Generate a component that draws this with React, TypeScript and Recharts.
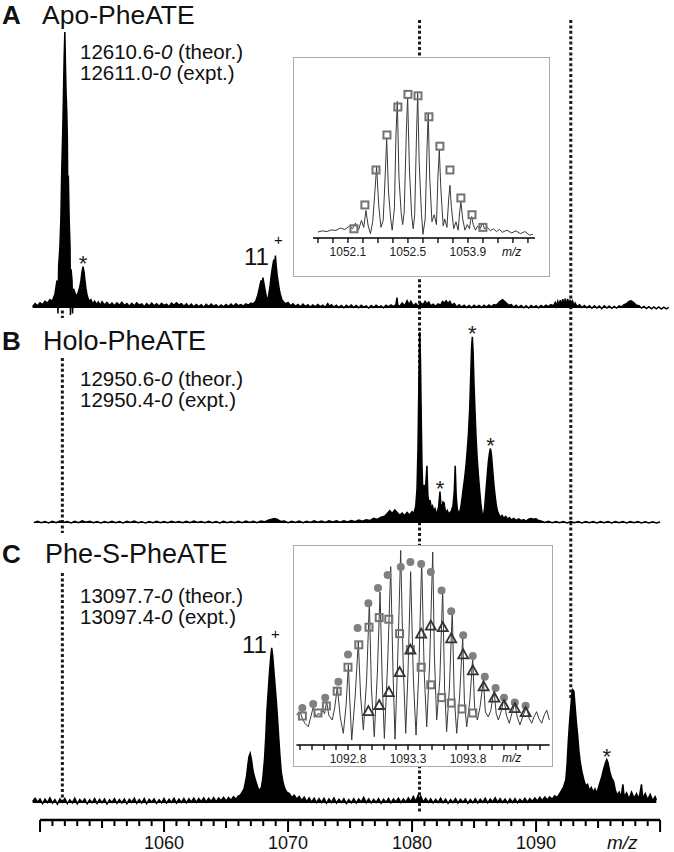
import React from 'react';
import {
  AreaChart,
  Area,
  ComposedChart,
  Line,
  Scatter,
  XAxis,
  YAxis,
  ReferenceLine,
  ReferenceDot,
} from 'recharts';

// m/z, relative intensity
const apoSpectrum: [number, number][] = [
  [1049.4, 0.5], [1049.6, 1.6], [1049.8, 0.8], [1050.0, 1.9], [1050.2, 1.2], [1050.4, 2.4], [1050.6, 1.8],
  [1050.8, 3.0], [1051.0, 2.6], [1051.2, 5], [1051.37, 10], [1051.45, -2], [1051.5, 15], [1051.6, 22],
  [1051.68, 32], [1051.75, 50], [1051.82, 62], [1051.88, 75], [1051.94, 90], [1052.0, 100], [1052.05, 88],
  [1052.1, 78], [1052.15, 72], [1052.2, 62], [1052.24, 40], [1052.28, 48], [1052.35, 32], [1052.42, 22],
  [1052.45, -2.5], [1052.5, 14], [1052.58, 10], [1052.62, -2], [1052.7, 7], [1052.85, 5], [1053.0, 4.5],
  [1053.1, 6], [1053.2, 7.5], [1053.3, 10], [1053.38, 13], [1053.47, 15], [1053.55, 13], [1053.62, 10],
  [1053.7, 7], [1053.78, 5], [1053.87, 3.5], [1053.95, 2.5], [1054.1, 3], [1054.25, 1.5], [1054.4, 2.5],
  [1054.55, 1.2], [1054.7, 2.2], [1054.85, 1], [1055.0, 2.3], [1055.2, 1.1], [1055.4, 2], [1055.6, 0.9],
  [1055.8, 1.8], [1056.0, 0.8], [1056.2, 1.9], [1056.4, 1.0], [1056.6, 2.1], [1056.8, 0.9], [1057.0, 1.6],
  [1057.2, 0.6], [1057.4, 1.7], [1057.6, 0.8], [1057.8, 1.9], [1058.0, 1.0], [1058.2, 1.5], [1058.4, 0.5],
  [1058.6, 1.6], [1058.8, 0.7], [1059.0, 1.8], [1059.2, 0.8], [1059.4, 1.5], [1059.6, 0.6], [1059.8, 1.7],
  [1060.0, 0.9], [1060.2, 1.4], [1060.4, 0.5], [1060.6, 1.8], [1060.8, 1.0], [1061.0, 1.9], [1061.2, 1.1],
  [1061.4, 1.6], [1061.6, 0.6], [1061.8, 1.5], [1062.0, 0.5], [1062.2, 1.4], [1062.4, 0.4], [1062.6, 1.3],
  [1062.8, 0.5], [1063.0, 1.2], [1063.2, 0.3], [1063.4, 1.3], [1063.6, 0.5], [1063.8, 1.4], [1064.0, 0.6],
  [1064.2, 1.2], [1064.4, 0.3], [1064.6, 1.1], [1064.8, 0.4], [1065.0, 1.3], [1065.2, 0.5], [1065.4, 1.4],
  [1065.6, 0.6], [1065.8, 1.5], [1066.0, 0.8], [1066.2, 1.2], [1066.4, 0.7], [1066.6, 1.5], [1066.8, 1.0],
  [1067.0, 1.8], [1067.2, 1.5], [1067.4, 2.5], [1067.55, 4.5], [1067.7, 7.5], [1067.82, 10], [1067.9, 8.5],
  [1067.97, 11], [1068.05, 9], [1068.15, 6.5], [1068.25, 4], [1068.35, 3], [1068.45, 5], [1068.55, 8],
  [1068.65, 12], [1068.75, 15], [1068.85, 17.5], [1068.92, 16], [1068.98, 19], [1069.05, 15], [1069.12, 12],
  [1069.2, 9.5], [1069.3, 6.5], [1069.4, 4.5], [1069.5, 3], [1069.65, 2.2], [1069.8, 1.5], [1070.0, 2.0],
  [1070.2, 0.8], [1070.4, 1.5], [1070.6, 0.6], [1070.8, 1.3], [1071.0, 0.4], [1071.2, 1.4], [1071.4, 0.5],
  [1071.6, 1.2], [1071.8, 0.3], [1072.0, 1.1], [1072.2, 0.4], [1072.4, 1.3], [1072.6, 0.5], [1072.8, 1.0],
  [1073.0, 0.2], [1073.2, 1.6], [1073.35, 0.6], [1073.5, 1.2], [1073.7, 0.3], [1073.9, 1.0], [1074.1, 0.2],
  [1074.3, 0.9], [1074.5, 0.1], [1074.7, 1.0], [1074.9, 0.3], [1075.1, 1.1], [1075.3, 0.2], [1075.5, 0.9],
  [1075.7, 0.1], [1075.9, 1.0], [1076.1, 0.3], [1076.3, 0.8], [1076.5, 0.0], [1076.7, 0.9], [1076.9, 0.2],
  [1077.1, 1.0], [1077.3, 0.3], [1077.5, 0.8], [1077.7, 0.1], [1077.9, 1.0], [1078.1, 0.4], [1078.3, 1.1],
  [1078.5, 0.5], [1078.7, 1.2], [1078.78, 3.8], [1078.85, 1.0], [1079.0, 0.6], [1079.2, 1.8], [1079.4, 0.8],
  [1079.6, 2.6], [1079.75, 1.2], [1079.9, 2.4], [1080.1, 0.8], [1080.3, 1.6], [1080.5, 0.6], [1080.7, 1.8],
  [1080.9, 1.2], [1081.05, 2.4], [1081.2, 1.5], [1081.35, 2.2], [1081.5, 0.8], [1081.7, 1.4], [1081.9, 0.6],
  [1082.1, 1.5], [1082.3, 1.0], [1082.45, 2.4], [1082.6, 1.8], [1082.75, 2.6], [1082.9, 1.6], [1083.05, 2.4],
  [1083.2, 1.0], [1083.4, 1.6], [1083.6, 0.4], [1083.8, 1.2], [1084.0, 0.3], [1084.2, 1.0], [1084.4, 0.2],
  [1084.6, 0.9], [1084.8, 0.1], [1085.0, 1.0], [1085.2, 0.3], [1085.4, 0.9], [1085.6, 0.2], [1085.8, 1.0],
  [1086.0, 0.3], [1086.2, 1.1], [1086.4, 0.4], [1086.6, 1.2], [1086.8, 1.0], [1087.0, 2.0], [1087.15, 2.6],
  [1087.3, 3.0], [1087.45, 2.4], [1087.6, 1.8], [1087.8, 1.0], [1088.0, 1.2], [1088.2, 0.3], [1088.4, 1.0],
  [1088.6, 0.2], [1088.8, 0.9], [1089.0, 0.1], [1089.2, 0.8], [1089.4, 0.0], [1089.6, 0.9], [1089.8, 0.2],
  [1090.0, 0.8], [1090.2, 0.1], [1090.4, 0.9], [1090.6, 0.3], [1090.8, 1.0], [1091.0, 0.5], [1091.2, 1.2],
  [1091.4, 0.8], [1091.55, 2.0], [1091.65, 0.6], [1091.75, 2.4], [1091.85, 0.8], [1091.95, 2.8], [1092.05, 0.9],
  [1092.15, 3.2], [1092.25, 1.0], [1092.35, 3.4], [1092.45, 1.1], [1092.55, 3.3], [1092.65, 1.0], [1092.75, 3.0],
  [1092.85, 0.9], [1092.95, 2.4], [1093.05, 0.7], [1093.15, 1.8], [1093.3, 0.5], [1093.5, 1.2], [1093.7, 0.2],
  [1093.9, 0.9], [1094.1, 0.1], [1094.3, 0.8], [1094.5, -0.1], [1094.7, 0.8], [1094.9, 0.0], [1095.1, 0.7],
  [1095.3, -0.2], [1095.5, 0.8], [1095.7, 0.0], [1095.9, 0.7], [1096.1, -0.1], [1096.3, 0.6], [1096.5, 0.0],
  [1096.7, 0.8], [1096.9, 0.4], [1097.1, 1.2], [1097.3, 1.6], [1097.5, 2.4], [1097.65, 2.6], [1097.8, 2.2],
  [1097.95, 1.6], [1098.1, 1.0], [1098.3, 0.8], [1098.5, 0.0], [1098.7, 0.6], [1098.9, -0.2], [1099.1, 0.5],
  [1099.3, -0.3], [1099.5, 0.4], [1099.7, -0.3], [1099.9, 0.4], [1100.1, -0.4], [1100.3, 0.3], [1100.5, -0.3],
  [1100.7, 0.2],
];

const holoSpectrum: [number, number][] = [
  [1049.5, 0.2], [1049.8, 0.9], [1050.1, 0.1], [1050.4, 0.8], [1050.7, 0.0], [1051.0, 0.9], [1051.3, 0.2],
  [1051.6, 1.0], [1051.9, 0.3], [1052.2, 0.8], [1052.5, 0.0], [1052.8, 0.9], [1053.1, 0.2], [1053.4, 1.1],
  [1053.7, 0.4], [1054.0, 0.9], [1054.3, 0.1], [1054.6, 0.8], [1054.9, 0.0], [1055.2, 0.7], [1055.5, 0.1],
  [1055.8, 0.9], [1056.1, 0.2], [1056.4, 0.8], [1056.7, 0.0], [1057.0, 0.9], [1057.3, 0.3], [1057.6, 1.0],
  [1057.9, 0.2], [1058.2, 0.7], [1058.5, 0.0], [1058.8, 0.8], [1059.1, 0.1], [1059.4, 0.9], [1059.7, 0.2],
  [1060.0, 0.8], [1060.3, 0.1], [1060.6, 0.9], [1060.9, 0.3], [1061.2, 0.8], [1061.5, 0.1], [1061.8, 0.9],
  [1062.1, 0.2], [1062.4, 1.0], [1062.7, 0.3], [1063.0, 0.8], [1063.3, 0.1], [1063.6, 0.9], [1063.9, 0.2],
  [1064.2, 0.8], [1064.5, 0.0], [1064.8, 0.9], [1065.1, 0.2], [1065.4, 0.8], [1065.7, 0.1], [1066.0, 0.9],
  [1066.3, 0.2], [1066.6, 1.0], [1066.9, 0.3], [1067.2, 0.9], [1067.5, 0.2], [1067.8, 1.0], [1068.1, 0.6],
  [1068.4, 1.4], [1068.7, 2.0], [1068.9, 2.4], [1069.1, 2.0], [1069.4, 0.8], [1069.7, 1.0], [1070.0, 0.2],
  [1070.3, 0.9], [1070.6, 0.3], [1070.9, 1.0], [1071.2, 0.2], [1071.5, 0.9], [1071.8, 0.3], [1072.1, 1.1],
  [1072.4, 0.4], [1072.7, 1.0], [1073.0, 0.3], [1073.3, 1.2], [1073.6, 0.5], [1073.9, 1.1], [1074.2, 0.4],
  [1074.5, 1.2], [1074.8, 0.6], [1075.1, 1.3], [1075.4, 0.7], [1075.7, 1.5], [1076.0, 0.9], [1076.3, 1.7],
  [1076.6, 1.3], [1076.9, 2.5], [1077.2, 1.9], [1077.5, 3.0], [1077.8, 3.6], [1078.0, 5.0], [1078.2, 6.5],
  [1078.4, 5.0], [1078.6, 6.8], [1078.8, 5.5], [1079.0, 4.0], [1079.2, 5.2], [1079.4, 3.8], [1079.6, 5.5],
  [1079.8, 4.2], [1080.0, 6.0], [1080.15, 5.0], [1080.3, 9], [1080.4, 18], [1080.48, 40], [1080.55, 75],
  [1080.62, 100], [1080.68, 85], [1080.74, 55], [1080.8, 30], [1080.86, 18], [1080.92, 12], [1080.98, 20],
  [1081.05, 14], [1081.12, 22], [1081.2, 30], [1081.27, 15], [1081.35, 10], [1081.45, 12], [1081.55, 8],
  [1081.65, 9], [1081.75, 6], [1081.85, 7.5], [1081.95, 5], [1082.05, 6], [1082.15, 9], [1082.25, 16.4],
  [1082.32, 10], [1082.4, 8], [1082.5, 11], [1082.58, 10.5], [1082.66, 7], [1082.75, 5.5], [1082.85, 6.5],
  [1082.95, 4.5], [1083.05, 5.5], [1083.15, 6], [1083.3, 9], [1083.4, 16], [1083.48, 30], [1083.56, 14],
  [1083.65, 7], [1083.75, 5.5], [1083.85, 6], [1083.95, 9], [1084.05, 14], [1084.15, 19], [1084.25, 24],
  [1084.35, 30], [1084.45, 38], [1084.55, 47], [1084.65, 60], [1084.72, 75], [1084.8, 92], [1084.86, 97.5],
  [1084.92, 90], [1085.0, 72], [1085.08, 58], [1085.16, 45], [1085.25, 34], [1085.35, 25], [1085.45, 17],
  [1085.55, 10], [1085.65, 5], [1085.75, 3.5], [1085.85, 8], [1085.95, 16], [1086.05, 24], [1086.15, 32],
  [1086.25, 37], [1086.32, 39], [1086.4, 36], [1086.5, 28], [1086.6, 20], [1086.7, 14], [1086.8, 9],
  [1086.9, 6], [1087.0, 4.5], [1087.1, 3], [1087.25, 4], [1087.4, 2.5], [1087.55, 3.4], [1087.7, 2],
  [1087.85, 2.8], [1088.0, 1.6], [1088.2, 2.4], [1088.4, 1.4], [1088.6, 2.2], [1088.8, 1.2], [1089.0, 1.8],
  [1089.2, 1.0], [1089.4, 2.0], [1089.6, 2.4], [1089.8, 2.0], [1090.0, 2.2], [1090.2, 1.3], [1090.4, 1.0],
  [1090.7, 0.3], [1091.0, 0.9], [1091.3, 0.2], [1091.6, 0.8], [1091.9, 0.1], [1092.2, 0.8], [1092.5, 0.0],
  [1092.8, 0.7], [1093.1, 0.1], [1093.4, 0.8], [1093.7, 0.0], [1094.0, 0.7], [1094.3, 0.1], [1094.6, 0.8],
  [1094.9, 0.0], [1095.2, 0.7], [1095.5, 0.1], [1095.8, 0.8], [1096.1, 0.0], [1096.4, 0.7], [1096.7, 0.1],
  [1097.0, 0.8], [1097.3, 0.0], [1097.6, 0.7], [1097.9, 0.1], [1098.2, 0.7], [1098.5, 0.0], [1098.8, 0.6],
  [1099.1, 0.0], [1099.4, 0.6], [1099.7, 0.0], [1100.0, 0.5],
];

const pheSpectrum: [number, number][] = [
  [1049.4, 1.0], [1049.6, 3.0], [1049.8, 0.5], [1050.0, 2.6], [1050.2, -0.5], [1050.4, 2.4], [1050.6, 0.2],
  [1050.8, 3.2], [1051.0, 0.0], [1051.2, 2.2], [1051.4, -0.8], [1051.6, 2.5], [1051.8, 0.3], [1052.0, 2.8],
  [1052.2, -0.4], [1052.4, 2.0], [1052.6, 0.0], [1052.8, 3.0], [1053.0, -0.6], [1053.2, 2.2], [1053.4, 0.4],
  [1053.6, 2.6], [1053.8, -0.5], [1054.0, 2.0], [1054.2, 0.1], [1054.4, 2.8], [1054.6, -0.3], [1054.8, 2.3],
  [1055.0, 0.2], [1055.2, 2.6], [1055.4, -0.7], [1055.6, 2.0], [1055.8, 0.3], [1056.0, 2.8], [1056.2, -0.2],
  [1056.4, 2.2], [1056.6, 0.0], [1056.8, 2.6], [1057.0, -0.5], [1057.2, 2.4], [1057.4, 0.4], [1057.6, 3.0],
  [1057.8, -0.2], [1058.0, 2.2], [1058.2, 0.1], [1058.4, 2.8], [1058.6, -0.4], [1058.8, 2.4], [1059.0, 0.5],
  [1059.2, 2.6], [1059.4, -0.3], [1059.6, 2.1], [1059.8, 0.2], [1060.0, 2.8], [1060.2, -0.1], [1060.4, 2.4],
  [1060.6, 0.3], [1060.8, 3.0], [1061.0, 0.0], [1061.2, 2.5], [1061.4, 0.4], [1061.6, 2.9], [1061.8, 0.1],
  [1062.0, 2.7], [1062.2, 0.6], [1062.4, 3.1], [1062.6, 0.4], [1062.8, 2.8], [1063.0, 0.8], [1063.2, 3.2],
  [1063.4, 0.6], [1063.6, 3.0], [1063.8, 1.0], [1064.0, 3.4], [1064.2, 0.9], [1064.4, 3.2], [1064.6, 1.4],
  [1064.8, 3.6], [1065.0, 1.2], [1065.2, 3.5], [1065.4, 1.8], [1065.6, 4.0], [1065.8, 2.4], [1066.0, 4.5],
  [1066.15, 5.0], [1066.3, 7], [1066.45, 9], [1066.55, 13], [1066.65, 17], [1066.75, 24], [1066.85, 30],
  [1066.95, 32], [1067.05, 28], [1067.15, 22], [1067.25, 18], [1067.4, 14], [1067.55, 10], [1067.7, 8],
  [1067.85, 10], [1067.95, 15], [1068.0, 19], [1068.1, 28], [1068.2, 42], [1068.3, 60], [1068.4, 72],
  [1068.5, 84], [1068.6, 94], [1068.68, 100], [1068.76, 95], [1068.85, 86], [1068.95, 76], [1069.05, 66],
  [1069.15, 55], [1069.25, 42], [1069.35, 30], [1069.45, 20], [1069.6, 13], [1069.75, 9], [1069.9, 7],
  [1070.1, 6], [1070.3, 3.5], [1070.5, 5], [1070.7, 2.5], [1070.9, 4.2], [1071.1, 1.5], [1071.3, 3.8],
  [1071.5, 0.8], [1071.7, 3.2], [1071.9, 0.5], [1072.1, 3.0], [1072.3, 0.2], [1072.5, 2.8], [1072.7, 0.4],
  [1072.9, 3.0], [1073.1, -0.2], [1073.3, 2.6], [1073.5, 0.3], [1073.7, 3.2], [1073.9, 0.0], [1074.1, 2.4],
  [1074.3, 0.4], [1074.5, 2.8], [1074.7, -0.3], [1074.9, 2.2], [1075.1, 0.2], [1075.3, 2.7], [1075.5, 0.0],
  [1075.7, 2.5], [1075.9, 0.5], [1076.1, 3.6], [1076.3, 0.2], [1076.5, 2.6], [1076.7, 0.0], [1076.9, 2.4],
  [1077.1, 0.3], [1077.3, 2.8], [1077.5, -0.2], [1077.7, 2.3], [1077.9, 0.4], [1078.1, 2.9], [1078.3, 0.1],
  [1078.5, 2.5], [1078.7, 0.6], [1078.9, 3.0], [1079.1, 0.2], [1079.3, 2.6], [1079.5, 0.5], [1079.7, 3.2],
  [1079.9, 0.8], [1080.1, 4.2], [1080.3, 1.0], [1080.5, 5.0], [1080.6, 1.2], [1080.7, 4.4], [1080.9, 0.6],
  [1081.1, 3.0], [1081.3, 0.4], [1081.5, 2.6], [1081.7, 0.0], [1081.9, 2.4], [1082.1, 0.3], [1082.3, 3.0],
  [1082.5, 0.2], [1082.7, 2.5], [1082.9, -0.3], [1083.1, 2.2], [1083.3, 0.3], [1083.5, 2.8], [1083.7, 0.0],
  [1083.9, 2.4], [1084.1, 0.4], [1084.3, 2.6], [1084.5, -0.2], [1084.7, 2.2], [1084.9, 0.2], [1085.1, 2.7],
  [1085.3, 0.0], [1085.5, 2.4], [1085.7, 0.5], [1085.9, 3.0], [1086.1, 0.1], [1086.3, 2.5], [1086.5, 0.6],
  [1086.7, 3.4], [1086.9, 0.4], [1087.1, 2.8], [1087.3, 0.3], [1087.5, 2.5], [1087.7, 0.0], [1087.9, 2.6],
  [1088.1, 0.4], [1088.3, 2.8], [1088.5, 0.2], [1088.7, 2.4], [1088.9, 0.6], [1089.1, 3.0], [1089.3, 0.5],
  [1089.5, 2.8], [1089.7, 1.0], [1089.9, 3.2], [1090.1, 1.2], [1090.3, 3.6], [1090.5, 1.5], [1090.7, 3.8],
  [1090.9, 2.0], [1091.1, 4.0], [1091.3, 2.4], [1091.5, 4.6], [1091.7, 3.5], [1091.9, 6], [1092.05, 8],
  [1092.2, 10], [1092.32, 13], [1092.4, 15], [1092.5, 25], [1092.6, 40], [1092.7, 52], [1092.8, 62],
  [1092.88, 70], [1092.95, 73], [1093.05, 72], [1093.15, 62], [1093.25, 52], [1093.35, 44], [1093.45, 34],
  [1093.55, 27], [1093.7, 20], [1093.85, 15], [1094.0, 11], [1094.15, 12], [1094.3, 8], [1094.45, 10],
  [1094.6, 7], [1094.75, 9], [1094.9, 6], [1095.0, 9], [1095.15, 13], [1095.3, 17], [1095.45, 22],
  [1095.6, 26], [1095.7, 28], [1095.8, 26], [1095.95, 20], [1096.1, 16], [1096.25, 14], [1096.4, 8],
  [1096.55, 5], [1096.7, 7], [1096.85, 3.5], [1097.0, 12], [1097.1, 4], [1097.3, 6.5], [1097.5, 2.5],
  [1097.7, 7], [1097.9, 3], [1098.1, 6], [1098.3, 2.5], [1098.5, 12], [1098.6, 3], [1098.8, 6],
  [1099.0, 2], [1099.2, 5.5], [1099.4, 1.5], [1099.6, 4], [1099.7, 2],
];

// inset A: 11+ isotope cluster of Apo-PheATE
const apoZoomTrace: [number, number][] = [
  [1051.9, 0.7], [1051.93, 1.5], [1051.96, 1.0], [1051.99, 2.2], [1052.02, 1.8], [1052.05, 3.5], [1052.08, 2.5],
  [1052.11, 5.0], [1052.13, 3.0], [1052.15, 7.0], [1052.17, 2.0], [1052.19, 9.0], [1052.205, 4.0], [1052.22, 16],
  [1052.235, 5], [1052.25, -0.5], [1052.265, 8], [1052.28, 30], [1052.291, 47.4], [1052.305, 20], [1052.32, 4],
  [1052.335, 9], [1052.35, 45], [1052.358, 68], [1052.37, 30], [1052.385, 10], [1052.395, 2], [1052.41, 18],
  [1052.42, 70], [1052.429, 94], [1052.44, 40], [1052.455, 14], [1052.465, 6], [1052.475, 15], [1052.49, 75],
  [1052.498, 97], [1052.51, 45], [1052.525, 12], [1052.535, 3], [1052.545, 13], [1052.557, 70], [1052.565, 99.8],
  [1052.575, 50], [1052.59, 14], [1052.6, -1], [1052.615, 10], [1052.627, 60], [1052.635, 85.5], [1052.645, 40],
  [1052.66, 8], [1052.675, 13], [1052.69, 6], [1052.7, 40], [1052.709, 59], [1052.72, 30], [1052.735, 5],
  [1052.745, 10], [1052.76, 4], [1052.772, 25], [1052.78, 34], [1052.79, 18], [1052.805, 3], [1052.82, 8],
  [1052.835, 2], [1052.845, 15], [1052.853, 22], [1052.865, 10], [1052.88, 2], [1052.895, 6], [1052.91, 3],
  [1052.918, 9], [1052.925, 11.7], [1052.935, 6], [1052.95, 2], [1052.965, 5], [1052.98, 3], [1052.998, 7],
  [1053.01, 3], [1053.03, 4], [1053.05, 1.5], [1053.07, 3], [1053.09, 1], [1053.11, 2.5], [1053.13, 0.5],
  [1053.16, 2], [1053.19, 0], [1053.22, 1.5], [1053.25, -0.5], [1053.28, 1], [1053.31, -1.5], [1053.333, -1],
];
const apoZoomSquares: [number, number][] = [
  [1052.14, 3], [1052.213, 20], [1052.287, 45], [1052.36, 70], [1052.433, 90], [1052.5, 99], [1052.567, 98],
  [1052.64, 83], [1052.713, 62], [1052.78, 45], [1052.853, 25], [1052.927, 13], [1053.0, 4],
];
const apoZoomTicks = [1052.1, 1052.5, 1052.9];
const apoZoomTickText = ['1052.1', '1052.5', '1053.9'];

// inset C: 11+ isotope cluster of Phe-S-PheATE
const pheZoomTrace: [number, number][] = [
  [1092.372, 3], [1092.39, 5], [1092.405, 4.2], [1092.42, 1], [1092.44, -2], [1092.469, -4.2], [1092.49, 2],
  [1092.511, 8.3], [1092.53, 2], [1092.55, 4], [1092.572, 3.5], [1092.59, 6], [1092.605, 4], [1092.622, 11.5],
  [1092.64, 3], [1092.669, 0], [1092.69, 8], [1092.711, 20.8], [1092.735, 2], [1092.761, -8.3], [1092.785, 10],
  [1092.803, 34.4], [1092.815, 12], [1092.831, -12.5], [1092.86, 15], [1092.886, 49], [1092.905, 15],
  [1092.928, -6.25], [1092.955, 25], [1092.978, 74], [1092.995, 20], [1093.019, -10.4], [1093.045, 30],
  [1093.067, 80], [1093.085, 25], [1093.103, -11.5], [1093.13, 35], [1093.156, 95.8], [1093.175, 30],
  [1093.192, -12], [1093.215, 40], [1093.239, 106], [1093.26, 35], [1093.281, -8.3], [1093.3, 30],
  [1093.322, 92.7], [1093.345, 25], [1093.367, -9.4], [1093.39, 30], [1093.414, 100], [1093.435, 30],
  [1093.456, -4.2], [1093.48, 35], [1093.506, 105], [1093.52, 40], [1093.539, 0], [1093.565, 25],
  [1093.589, 82], [1093.605, 20], [1093.622, -7.3], [1093.645, 20], [1093.669, 68.75], [1093.685, 15],
  [1093.706, -8.3], [1093.73, 15], [1093.756, 52], [1093.77, 12], [1093.789, -4.2], [1093.815, 12],
  [1093.839, 38.5], [1093.855, 8], [1093.878, 0], [1093.9, 8], [1093.928, 25], [1093.945, 5], [1093.969, 2],
  [1093.99, 6], [1094.017, 18.75], [1094.035, 4], [1094.053, 0], [1094.075, 5], [1094.1, 13.5], [1094.12, 3],
  [1094.144, -2], [1094.165, 4], [1094.192, 10.4], [1094.21, 2], [1094.233, -3], [1094.26, 3], [1094.289, 8.3],
  [1094.31, 1], [1094.331, -2], [1094.35, 2], [1094.372, 5.2], [1094.39, 1], [1094.414, -2], [1094.435, 3],
  [1094.456, 6.25], [1094.478, 0],
];
const pheZoomCircles: [number, number][] = [
  [1092.42, 7.5], [1092.51, 10], [1092.61, 14], [1092.72, 24], [1092.8, 41], [1092.88, 57.5], [1092.97, 73],
  [1093.05, 82.5], [1093.13, 90.6], [1093.24, 95.6], [1093.32, 98.8], [1093.41, 97.5], [1093.49, 92.5],
  [1093.58, 81], [1093.66, 68], [1093.76, 53], [1093.84, 40], [1093.94, 27], [1094.03, 20], [1094.1, 14],
  [1094.19, 11], [1094.28, 9],
];
const pheZoomSquares: [number, number][] = [
  [1092.42, 2.5], [1092.55, 4.4], [1092.62, 8.8], [1092.71, 18], [1092.8, 33], [1092.89, 47], [1092.975, 58],
  [1093.06, 64], [1093.14, 63], [1093.23, 54], [1093.32, 44], [1093.41, 33], [1093.49, 22], [1093.58, 14],
  [1093.66, 10.6], [1093.75, 6.9], [1093.84, 4.4],
];
const pheZoomTriangles: [number, number][] = [
  [1092.97, 5.6], [1093.06, 9.4], [1093.14, 17.5], [1093.23, 30], [1093.32, 44], [1093.41, 54], [1093.49, 59],
  [1093.59, 58], [1093.66, 51], [1093.76, 41], [1093.84, 31], [1093.93, 21], [1094.02, 14], [1094.1, 9.4],
  [1094.19, 7.5], [1094.28, 5],
];
const pheZoomTicks = [1092.8, 1093.3, 1093.8];

const axisLabels = [1060, 1070, 1080, 1090];
const apoStars: [number, number][] = [[1053.47, 15]];
const holoStars: [number, number][] = [[1084.86, 97.5], [1086.32, 39], [1082.25, 16.4]];
const pheStars: [number, number][] = [[1095.7, 28]];

// dotted guides: m/z and vertical extent on the page
const guideSegments = [
  { mz: 1051.8, from: 305, to: 318 },
  { mz: 1051.8, from: 358, to: 533 },
  { mz: 1051.8, from: 573, to: 803 },
  { mz: 1080.6, from: 20, to: 812 },
  { mz: 1092.8, from: 20, to: 700 },
];

const FONT = '"Liberation Sans", Arial, Helvetica, sans-serif';
const MZ_DOMAIN: [number, number] = [1049.4, 1100.8];
const W = 674;
const H = 852;
const SIDE = { left: 32.6, right: 4 };

const rows = (pts: [number, number][]) => pts.map(([mz, v]) => ({ mz, v }));
const mainTicks = Array.from({ length: 51 }, (_, i) => 1050 + i);
const tenths = (a: number, b: number) =>
  Array.from({ length: Math.round((b - a) * 10) + 1 }, (_, i) => Math.round((a + i * 0.1) * 10) / 10);

const abs: React.CSSProperties = { position: 'absolute', left: 0, top: 0 };

const Star = (p: any) => (
  <text x={p.cx} y={p.cy + 4} textAnchor="middle" fontSize={22} fontFamily={FONT} fill="#222">
    *
  </text>
);

const MainTick = (p: any) => {
  const v = p.payload.value;
  const len = v % 10 === 0 ? 12 : v % 5 === 0 ? 8 : 6;
  return (
    <g>
      <line x1={p.x} x2={p.x} y1={p.y} y2={p.y + len} stroke="#000" strokeWidth={2} />
      {axisLabels.includes(v) && (
        <text x={p.x} y={p.y + 29} textAnchor="middle" fontSize={18} fontFamily={FONT} fill="#111">
          {v}
        </text>
      )}
    </g>
  );
};

const makeInsetTick = (labelAt: number[], labelText: string[]) => (p: any) => {
  const v = p.payload.value;
  const idx = labelAt.findIndex((t) => Math.abs(t - v) < 1e-6);
  return (
    <g>
      <line x1={p.x} x2={p.x} y1={p.y} y2={p.y + 5} stroke="#000" strokeWidth={1.3} />
      {idx >= 0 && (
        <text x={p.x} y={p.y + 18} textAnchor="middle" fontSize={12} fontFamily={FONT} fill="#222">
          {labelText[idx]}
        </text>
      )}
    </g>
  );
};

const SquareMark = (p: any) => (
  <rect x={p.cx - 3.5} y={p.cy - 3.5} width={7} height={7} fill="none" stroke="#737373" strokeWidth={2} />
);
const CircleMark = (p: any) => <circle cx={p.cx} cy={p.cy} r={4} fill="#808080" />;
const TriangleMark = (p: any) => (
  <path
    d={`M${p.cx},${p.cy - 5} L${p.cx + 5},${p.cy + 4} L${p.cx - 5},${p.cy + 4} Z`}
    fill="none"
    stroke="#333"
    strokeWidth={1.8}
  />
);

type PanelProps = {
  data: [number, number][];
  stars: [number, number][];
  top: number;
  bottom: number;
  yDomain: [number, number];
  axis?: boolean;
};

const Panel = ({ data, stars, top, bottom, yDomain, axis }: PanelProps) => (
  <div style={abs}>
    <AreaChart width={W} height={H} data={rows(data)} margin={{ ...SIDE, top, bottom }}>
      <XAxis
        type="number"
        dataKey="mz"
        domain={MZ_DOMAIN}
        hide={!axis}
        ticks={mainTicks}
        interval={0}
        axisLine={false}
        tickLine={false}
        tickSize={0}
        tickMargin={0}
        height={32}
        tick={<MainTick />}
      />
      <YAxis type="number" domain={yDomain} hide />
      {axis && (
        <ReferenceLine
          segment={[
            { x: 1050, y: yDomain[0] },
            { x: 1100, y: yDomain[0] },
          ]}
          stroke="#000"
          strokeWidth={2.5}
        />
      )}
      <Area
        type="linear"
        dataKey="v"
        stroke="#000"
        strokeWidth={1.5}
        fill="#000"
        fillOpacity={1}
        isAnimationActive={false}
      />
      {stars.map(([x, y]) => (
        <ReferenceDot key={x} x={x} y={y} r={0} shape={<Star />} />
      ))}
    </AreaChart>
  </div>
);

const Guides = () => (
  <div style={abs}>
    <ComposedChart width={W} height={H} data={guideSegments} margin={{ ...SIDE, top: 0, bottom: 0 }}>
      <XAxis type="number" dataKey="mz" domain={MZ_DOMAIN} hide />
      <YAxis type="number" dataKey="from" domain={[0, H]} reversed hide />
      {guideSegments.map((g, i) => (
        <ReferenceLine
          key={i}
          segment={[
            { x: g.mz, y: g.from },
            { x: g.mz, y: g.to },
          ]}
          ifOverflow="visible"
          stroke="#1a1a1a"
          strokeWidth={3}
          strokeDasharray="3 2.4"
        />
      ))}
    </ComposedChart>
  </div>
);

const boxStyle = (left: number, top: number, width: number, height: number): React.CSSProperties => ({
  position: 'absolute',
  left,
  top,
  width,
  height,
  border: '1px solid #ababab',
  background: '#fff',
  boxSizing: 'border-box',
});

const ApoInset = () => (
  <div style={boxStyle(293, 57, 257, 220)}>
    <ComposedChart width={255} height={218} margin={{ top: 35, right: 14, bottom: 14, left: 19 }}>
      <XAxis
        type="number"
        dataKey="mz"
        domain={[1051.867, 1053.347]}
        ticks={tenths(1051.9, 1053.3)}
        interval={0}
        tickLine={false}
        tickSize={0}
        tickMargin={0}
        height={24}
        axisLine={{ stroke: '#000', strokeWidth: 1.5 }}
        tick={makeInsetTick(apoZoomTicks, apoZoomTickText)}
      />
      <YAxis type="number" domain={[-3.6, 100]} hide />
      <Line
        data={rows(apoZoomTrace)}
        dataKey="v"
        type="linear"
        stroke="#3a3a3a"
        strokeWidth={1}
        dot={false}
        isAnimationActive={false}
      />
      <Scatter data={rows(apoZoomSquares)} dataKey="v" shape={<SquareMark />} isAnimationActive={false} />
    </ComposedChart>
  </div>
);

const PheInset = () => (
  <div style={boxStyle(293, 545, 260, 222)}>
    <ComposedChart width={258} height={220} margin={{ top: 1.2, right: 2.4, bottom: 0, left: 2.4 }}>
      <XAxis
        type="number"
        dataKey="mz"
        domain={[1092.37, 1094.48]}
        ticks={tenths(1092.4, 1094.4)}
        interval={0}
        tickLine={false}
        tickSize={0}
        tickMargin={0}
        height={21}
        axisLine={{ stroke: '#000', strokeWidth: 1.5 }}
        tick={makeInsetTick(pheZoomTicks, pheZoomTicks.map((t) => t.toFixed(1)))}
      />
      <YAxis type="number" domain={[-15.6, 108]} hide />
      <Line
        data={rows(pheZoomTrace)}
        dataKey="v"
        type="linear"
        stroke="#3a3a3a"
        strokeWidth={1}
        dot={false}
        isAnimationActive={false}
      />
      <Scatter data={rows(pheZoomCircles)} dataKey="v" shape={<CircleMark />} isAnimationActive={false} />
      <Scatter data={rows(pheZoomSquares)} dataKey="v" shape={<SquareMark />} isAnimationActive={false} />
      <Scatter data={rows(pheZoomTriangles)} dataKey="v" shape={<TriangleMark />} isAnimationActive={false} />
    </ComposedChart>
  </div>
);

const Mass = ({ x, y, value, kind }: { x: number; y: number; value: string; kind: string }) => (
  <text x={x} y={y} fontSize={20.5} fontFamily={FONT} fill="#111">
    {value}-<tspan fontStyle="italic">0</tspan> ({kind})
  </text>
);

const Texts = () => (
  <svg width={W} height={H} style={{ ...abs, pointerEvents: 'none' }}>
    <g fontFamily={FONT} fill="#111">
      <text x={2} y={24} fontSize={26} fontWeight="bold">A</text>
      <text x={42} y={24} fontSize={26.5}>Apo-PheATE</text>
      <text x={2} y={350} fontSize={26} fontWeight="bold">B</text>
      <text x={43} y={350} fontSize={27}>Holo-PheATE</text>
      <text x={2} y={563} fontSize={26} fontWeight="bold">C</text>
      <text x={45} y={563} fontSize={27}>Phe-S-PheATE</text>
      <text x={244} y={265} fontSize={24}>11</text>
      <text x={274} y={245} fontSize={15}>+</text>
      <text x={242} y={653} fontSize={24}>11</text>
      <text x={271} y={639} fontSize={15}>+</text>
      <text x={607} y={849} fontSize={19} fontStyle="italic">m/z</text>
      <text x={502} y={256} fontSize={12} fontStyle="italic">m/z</text>
      <text x={502} y={762} fontSize={12} fontStyle="italic">m/z</text>
    </g>
    <Mass x={80} y={59} value="12610.6" kind="theor." />
    <Mass x={80} y={80} value="12611.0" kind="expt." />
    <Mass x={80} y={386} value="12950.6" kind="theor." />
    <Mass x={80} y={407} value="12950.4" kind="expt." />
    <Mass x={80} y={603} value="13097.7" kind="theor." />
    <Mass x={80} y={624} value="13097.4" kind="expt." />
  </svg>
);

export default function App() {
  return (
    <div style={{ position: 'absolute', left: 0, top: 0, width: W, height: H, background: '#fff', overflow: 'hidden' }}>
      <Guides />
      <Panel data={apoSpectrum} stars={apoStars} top={20.96} bottom={532.96} yDomain={[-4, 104]} />
      <Panel data={holoSpectrum} stars={holoStars} top={324.36} bottom={321.36} yDomain={[-4, 104]} />
      <Panel data={pheSpectrum} stars={pheStars} top={641.75} bottom={0} yDomain={[-11, 104]} axis />
      <ApoInset />
      <PheInset />
      <Texts />
    </div>
  );
}
